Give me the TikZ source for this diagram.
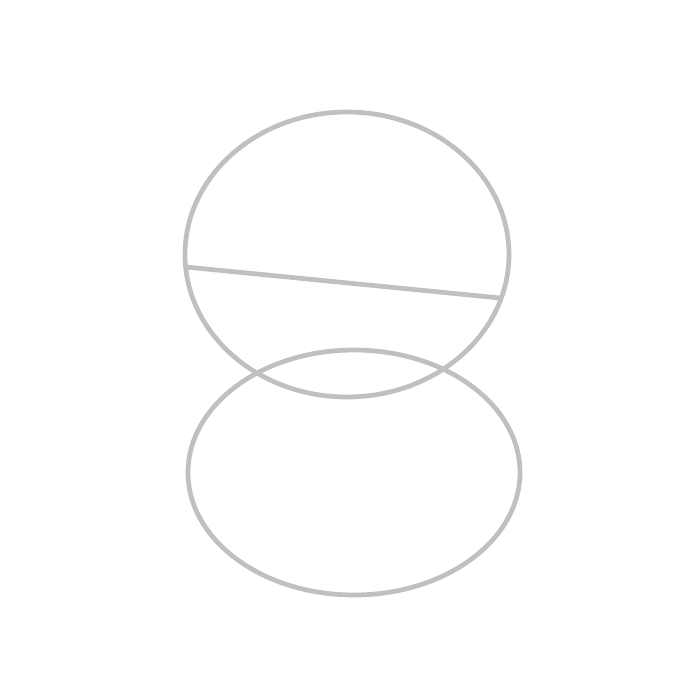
\documentclass[tikz,border=0pt]{standalone}
\usetikzlibrary{positioning}

\definecolor{rimgray}{RGB}{192,192,192}

\begin{document}
\begin{tikzpicture}[rim/.style={draw=rimgray,line width=1.35pt}]
	\useasboundingbox (0,0) rectangle (7,7);
	\draw [rim] (3.47,4.455) ellipse [x radius=1.62cm,y radius=1.425cm];
	\draw [rim] (3.54,2.275) ellipse [x radius=1.66cm,y radius=1.225cm];

	\coordinate (chord_l) at (1.86,4.33);
	\coordinate (chord_r) at (5.00,4.02);
	\draw [rim] (chord_l) -- (chord_r);
\end{tikzpicture}
\end{document}
